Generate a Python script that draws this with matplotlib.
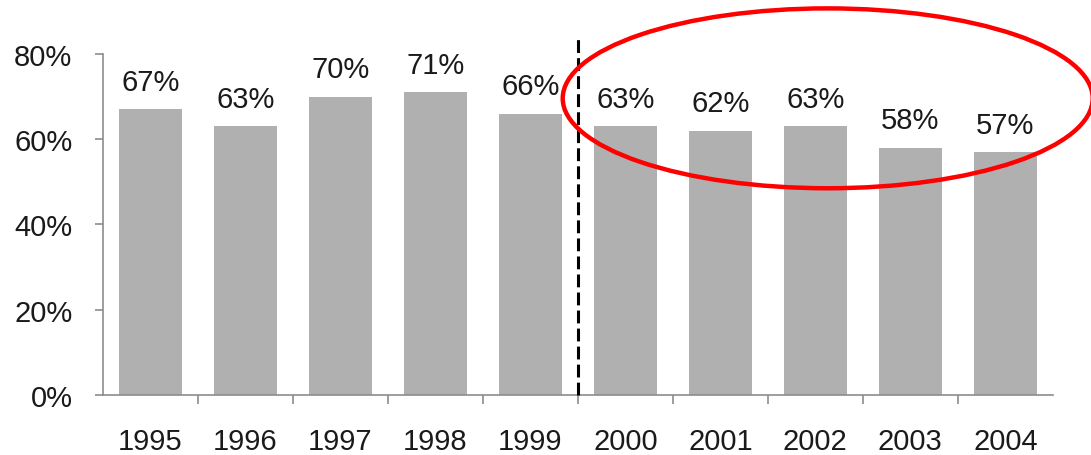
import numpy as np
import matplotlib.pyplot as plt
from matplotlib.patches import Ellipse
from matplotlib.ticker import FixedLocator, PercentFormatter

plt.rcParams['font.family'] = ['Liberation Sans', 'DejaVu Sans']

years = ['1995', '1996', '1997', '1998', '1999',
         '2000', '2001', '2002', '2003', '2004']
share = [67, 63, 70, 71, 66, 63, 62, 63, 58, 57]

fig = plt.figure(figsize=(10.91, 4.56), dpi=100)
ax = fig.add_axes([0.0944, 0.1316, 0.8706, 0.7478])

x = np.arange(len(years))
ax.bar(x, share, width=0.66, color='#b0b0b0', zorder=2)

for xi, v in zip(x, share):
    ax.annotate(f'{v}%', (xi, v), xytext=(0, 14), textcoords='offset points',
                ha='center', va='baseline', fontsize=21, color='#1a1a1a')

ax.set_xlim(-0.5, len(years) - 0.5)
ax.set_ylim(0, 80)
ax.yaxis.set_major_locator(FixedLocator([0, 20, 40, 60, 80]))
ax.yaxis.set_major_formatter(PercentFormatter(decimals=0))

ax.set_xticks(x)
ax.set_xticklabels(years)
ax.xaxis.set_minor_locator(FixedLocator(np.arange(0.5, len(years) - 1, 1.0)))
ax.tick_params(axis='x', which='major', length=0, pad=23, labelsize=21,
               labelcolor='#1a1a1a')
ax.tick_params(axis='x', which='minor', length=6.5, width=1.2, color='#8c8c8c',
               direction='out')
ax.tick_params(axis='y', length=6, width=1.2, color='#8c8c8c', pad=16,
               labelsize=21, labelcolor='#1a1a1a')

for s in ['top', 'right']:
    ax.spines[s].set_visible(False)
for s in ['left', 'bottom']:
    ax.spines[s].set_color('#8c8c8c')
    ax.spines[s].set_linewidth(1.2)

# split between the two periods
ax.plot([4.5, 4.5], [0, 84], ls=(0, (4.2, 1.7)), color='black', lw=2.2,
        clip_on=False, zorder=3)

# highlight the later years
ax.add_patch(Ellipse((7.13, 69.6), 5.58, 42.2, fill=False, edgecolor='red',
                     lw=3.2, clip_on=False, zorder=4))

fig.savefig('out.png', dpi=100)
